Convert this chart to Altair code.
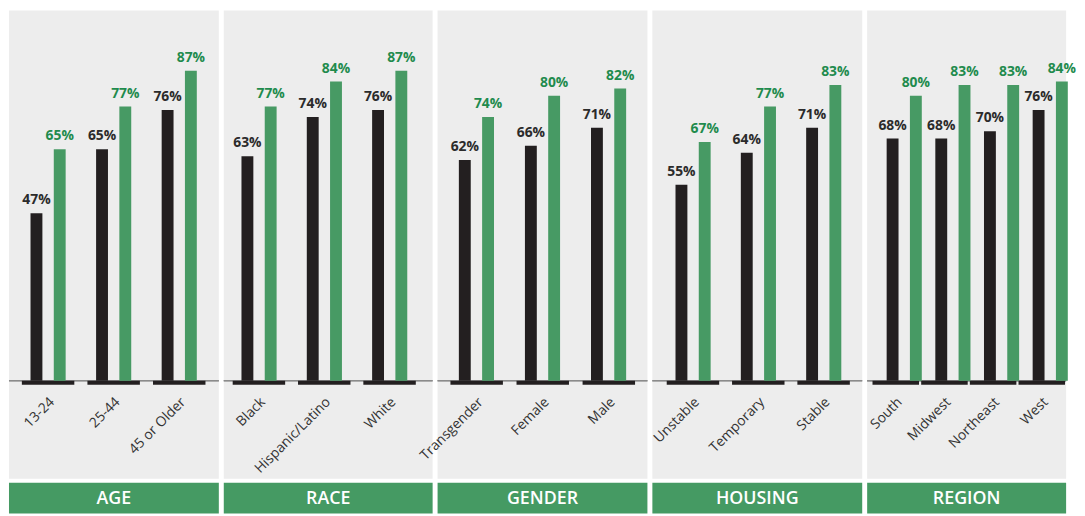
import altair as alt
import pandas as pd

groups = ["AGE", "RACE", "GENDER", "HOUSING", "REGION"]
categories = [
    ["13-24", "25-44", "45 or Older"],
    ["Black", "Hispanic/Latino", "White"],
    ["Transgender", "Female", "Male"],
    ["Unstable", "Temporary", "Stable"],
    ["South", "Midwest", "Northeast", "West"],
]
black_values = [[47, 65, 76], [63, 74, 76], [62, 66, 71], [55, 64, 71], [68, 68, 70, 76]]
green_values = [[65, 77, 87], [77, 84, 87], [74, 80, 82], [67, 77, 83], [80, 83, 83, 84]]
series = ["Series 1", "Series 2"]

BLACK = "#231f20"
GREEN = "#479a64"
GREEN_TEXT = "#1f8b4d"
DARK_TEXT = "#2b2b2b"
BG = "#ededed"
HEADER = "#459a63"
FONT = "Open Sans"

# panel layout (pixel styling only)
panel_widths = [212, 211, 212, 212, 201]
band_steps = [66.25, 66, 66.75, 66, 49.17]
first_centers = [39.5, 35.5, 39.5, 41, 29]
segment_widths = [53, 53, 53, 53, 47]
PLOT_H = 473
HEADER_H = 31


def make_panel(i):
    cats = categories[i]
    n = len(cats)
    W = panel_widths[i]
    step = band_steps[i]
    po = max(0, (W / step - n) / 2)
    slack = max(0.001, W - step * n)
    left_pad = first_centers[i] - step / 2
    align = min(1, max(0, left_pad / slack))
    off_step = 23.5
    off_pi = 1 - 12 / off_step
    off_po = (step / off_step - (2 - off_pi)) / 2

    rows = []
    for c, b, g in zip(cats, black_values[i], green_values[i]):
        rows.append({"cat": c, "series": series[0], "value": b})
        rows.append({"cat": c, "series": series[1], "value": g})
    df = pd.DataFrame(rows)
    df["label"] = df["value"].astype(str) + "%"
    cat_df = pd.DataFrame({"cat": cats, "zero": [0] * n})

    xs = alt.X("cat:N", sort=cats, axis=None,
               scale=alt.Scale(paddingInner=0, paddingOuter=po, align=align))
    yscale = alt.Scale(domain=[-27.5, 103.9], nice=False)
    ys = alt.Y("value:Q", axis=None, scale=yscale)
    y0 = alt.Y("zero:Q", axis=None, scale=yscale)
    xoff = alt.XOffset("series:N", sort=series,
                       scale=alt.Scale(paddingInner=off_pi, paddingOuter=off_po))
    is_first = f"datum.series == '{series[0]}'"

    base = alt.Chart(df)
    baseline = alt.Chart(cat_df).mark_rule(color="#8a8a8a", strokeWidth=1).encode(y=y0)
    ticks = alt.Chart(cat_df).mark_tick(
        orient="horizontal", size=segment_widths[i], thickness=4, color=BLACK,
        opacity=1, yOffset=2
    ).encode(x=xs, y=y0)
    bars = base.mark_bar().encode(
        x=xs, xOffset=xoff, y=ys,
        color=alt.condition(is_first, alt.value(BLACK), alt.value(GREEN)),
    )
    vals = base.mark_text(dy=-9, baseline="alphabetic", fontSize=14,
                          fontWeight="bold", font=FONT).encode(
        x=xs, xOffset=xoff, y=ys, text="label:N",
        color=alt.condition(is_first, alt.value(DARK_TEXT), alt.value(GREEN_TEXT)),
    )
    cat_labels = alt.Chart(cat_df).mark_text(
        angle=315, align="right", baseline="middle", dx=-10.8, dy=16.8,
        fontSize=14, font=FONT, color="#333333"
    ).encode(x=xs, y=y0, text="cat:N")

    plot = alt.layer(baseline, ticks, bars, vals, cat_labels).properties(
        width=W, height=PLOT_H, view=alt.ViewBackground(fill=BG, stroke=None)
    )
    header = alt.Chart(pd.DataFrame({"g": [groups[i]]})).mark_text(
        font=FONT, fontSize=18, fontWeight=600, color="white",
        baseline="middle", align="center"
    ).encode(text="g:N", x=alt.value(W / 2), y=alt.value(16)).properties(
        width=W, height=HEADER_H, view=alt.ViewBackground(fill=HEADER, stroke=None)
    )
    return plot, header


parts = [make_panel(i) for i in range(len(groups))]
cells = [p for p, _ in parts] + [h for _, h in parts]

chart = alt.concat(
    *cells, columns=len(groups), spacing={"row": 4, "column": 5},
    bounds="flush", align="each"
).properties(padding=0).configure_view(stroke=None)

chart.save("out.html", embed_options={"renderer": "svg", "actions": False})
